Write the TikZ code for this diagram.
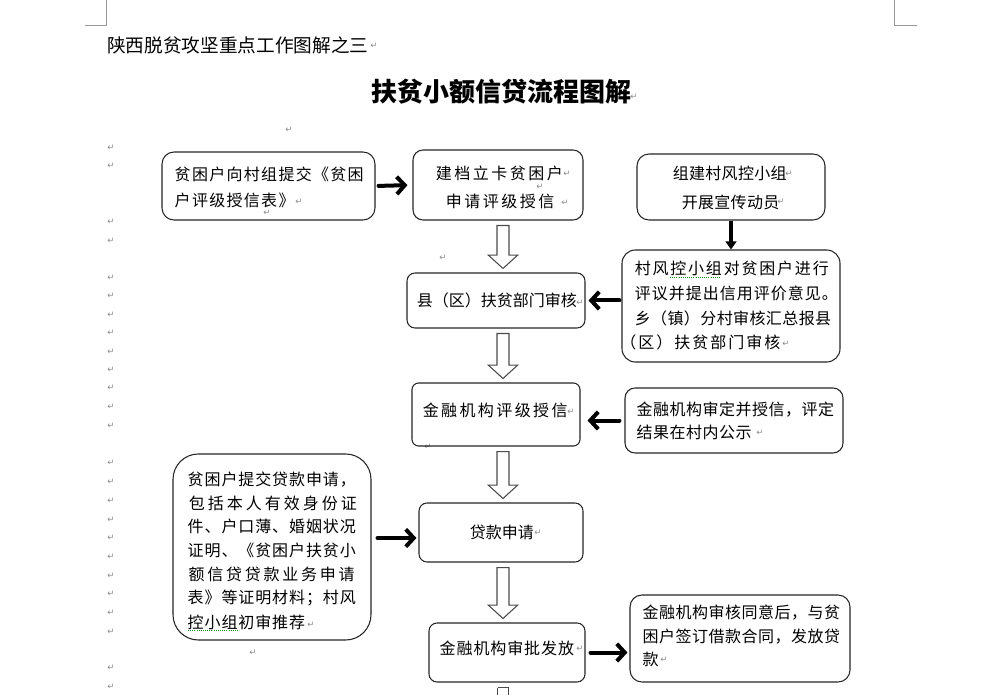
\documentclass[tikz,border=0pt]{standalone}
\usepackage{fontspec}
\newfontfamily\cjk{Noto Sans CJK SC}
\newfontfamily\arrfont{DejaVu Sans}
\usetikzlibrary{arrows.meta,calc,fit}
\ExplSyntaxOn
\NewDocumentCommand\pline{mm}{\tl_map_inline:nn{#2}{\makebox[#1][c]{##1}}}
\ExplSyntaxOff
\tikzset{
 bx/.style={draw=black!85, line width=0.8pt, inner sep=0pt},
 tl/.style={anchor=west, inner sep=0pt, font=\cjk\fontsize{12pt}{14pt}\selectfont},
 pm/.style={inner sep=0pt, text=black!45, font=\arrfont\fontsize{6.5pt}{7pt}\selectfont},
 bigarr/.style={line width=3pt, -{Straight Barb[length=6pt,width=13pt]}, line cap=round, line join=round},
 thinarr/.style={line width=2.4pt, -{Triangle[length=6pt,width=8pt]}},
 hollow/.style={draw=black!70, line width=0.8pt, fill=white},
 crop/.style={draw=black!40, line width=0.6pt},
 squig/.style={draw=green!55!black, densely dotted, line width=0.6pt},
}
\newcommand\harrow[2]{\draw[hollow] let \p1=($(#1.south -| col)+(0,5)$), \p2=($(#2.north -| col)+(0,-4)$) in
 ({\x1-4.5pt},\y1) -- ({\x1-4.5pt},{\y2+10pt}) -- ({\x1-11pt},{\y2+10pt}) -- (\x1,\y2) -- ({\x1+11pt},{\y2+10pt}) -- ({\x1+4.5pt},{\y2+10pt}) -- ({\x1+4.5pt},\y1) -- cycle;}
\begin{document}
\begin{tikzpicture}[x=0.75pt,y=-0.75pt]
\clip (0,0) rectangle (1000,695);
\fill[white] (0,0) rectangle (1000,695);
% crop marks
\draw[crop] (106,0) -- (106,25) -- (85,25);
\draw[crop] (894,0) -- (894,25) -- (917,25);
% header and title
\node[anchor=west, inner sep=0pt, font=\cjk\fontsize{14pt}{16pt}\selectfont] (hdr) at (107,45) {陕西脱贫攻坚重点工作图解之三};
\node[pm] (hdrm) at (374,46) {↵};
\node[anchor=west, inner sep=0pt, font=\cjk\bfseries\fontsize{19.5pt}{22pt}\selectfont] (ttl) at (371,92) {扶贫小额信贷流程图解};
\node[pm] (ttlm) at (634,97) {↵};
% paragraph marks
\foreach \yy in {148,166,222,241,278,296,315,333,352,370,388,407,426,463,482,501,520,538,557,576,594,613,632,668,687}
  \node[pm] (m\yy) at (111,\yy) {↵};
\node[pm] (p1) at (289,130) {↵};
\node[pm] (p2) at (443,258) {↵};
\node[pm] (p3) at (428,447) {↵};
\node[pm] (p4) at (253,653) {↵};
\coordinate (col) at (503,0);
% boxes
\node[bx, rounded corners=9pt, fit={(162,152) (375,220)}] (A) {};
\node[bx, rounded corners=7.5pt, fit={(413,150) (583,220)}] (B) {};
\node[bx, rounded corners=6pt, fit={(407,273) (585,328)}] (C) {};
\node[bx, rounded corners=9pt, fit={(637,154) (825,220)}] (D) {};
\node[bx, rounded corners=10pt, fit={(622,250) (840,362)}] (E) {};
\node[bx, rounded corners=5pt, fit={(412,383) (580,446)}] (F) {};
\node[bx, rounded corners=7.5pt, fit={(625,388) (843,453)}] (G) {};
\node[bx, rounded corners=6pt, fit={(419,503) (583,562)}] (H) {};
\node[bx, rounded corners=19pt, fit={(173,454) (371,640)}] (I) {};
\node[bx, rounded corners=6pt, fit={(429,623) (585,682)}] (J) {};
\node[bx, rounded corners=9pt, fit={(630,595) (850,682)}] (K) {};
% texts
\node[tl] (a1) at (173.8,174) {\pline{12.975pt}{贫困户向村组提交《贫困}};
\node[tl] (a2) at (173.8,200) {\pline{12.975pt}{户评级授信表》}};
\node[pm] (am1) at (299,202) {↵};
\node[pm] (am2) at (267,213) {↵};
\node[tl] (b1) at (434.3,173) {\pline{13.875pt}{建档立卡贫困户}};
\node[tl] (b2) at (444.3,201) {\pline{13.875pt}{申请评级授信}};
\node[pm] (bm1) at (567,174) {↵};
\node[pm] (bm2) at (540,187) {↵};
\node[pm] (bm3) at (565,203) {↵};
\node[tl] (c1) at (416.5,300) {\pline{12pt}{县（区）扶贫部门审核}};
\node[pm] (cm) at (580,303) {↵};
\node[tl] (d1) at (672.4,173) {\pline{12.225pt}{组建村风控小组}};
\node[tl] (d2) at (681.4,202) {\pline{12.225pt}{开展宣传动员}};
\node[pm] (dm1) at (789,174) {↵};
\node[pm] (dm2) at (781,202) {↵};
\node[tl] (e1) at (633.6,268) {\pline{13.35pt}{村风控小组对贫困户进行}};
\node[tl] (e2) at (634,293) {\pline{12.75pt}{评议并提出信用评价意见。}};
\node[tl] (e3) at (634.3,318) {\pline{12.3pt}{乡（镇）分村审核汇总报县}};
\node[tl] (e4) at (619,342) {\pline{13.5pt}{（区）扶贫部门审核}};
\node[pm] (em) at (786,344) {↵};
\draw[squig] (670,277) -- (720,277);
\node[tl] (f1) at (421.3,410) {\pline{13.8pt}{金融机构评级授信}};
\node[pm] (fm) at (571,412) {↵};
\node[tl] (g1) at (636.2,410) {\pline{12.375pt}{金融机构审定并授信，评定}};
\node[tl] (g2) at (636.2,432) {\pline{12.375pt}{结果在村内公示}};
\node[pm] (gm) at (760,433) {↵};
\node[tl] (h1) at (469.5,532) {\pline{12pt}{贷款申请}};
\node[pm] (hm) at (538,533) {↵};
\node[tl] (i1) at (187,480) {\pline{12.675pt}{贫困户提交贷款申请，}};
\node[tl] (i2) at (187,503) {\pline{14.25pt}{包括本人有效身份证}};
\node[tl] (i3) at (187,526) {\pline{12.675pt}{件、户口薄、婚姻状况}};
\node[tl] (i4) at (187,550) {\pline{12.675pt}{证明、《贫困户扶贫小}};
\node[tl] (i5) at (187,574) {\pline{14.06pt}{额信贷贷款业务申请}};
\node[tl] (i6) at (187,598) {\pline{12.675pt}{表》等证明材料；村风}};
\node[tl] (i7) at (187,622) {\pline{12.675pt}{控小组初审推荐}};
\node[pm] (im) at (311,625) {↵};
\draw[squig] (188,630) -- (238,630);
\node[tl] (j1) at (439,648) {\pline{12.675pt}{金融机构审批发放}};
\node[pm] (jm) at (580,649) {↵};
\node[tl] (k1) at (642.2,613) {\pline{12.375pt}{金融机构审核同意后，与贫}};
\node[tl] (k2) at (642.2,637) {\pline{12.375pt}{困户签订借款合同，发放贷}};
\node[tl] (k3) at (642.2,659) {\pline{12.375pt}{款}};
\node[pm] (km) at (664,660) {↵};
% connectors
\draw[bigarr, shorten <=2.25pt, shorten >=3.75pt] (A.east) -- (B.west);
\draw[bigarr, shorten <=1.5pt, shorten >=2.25pt] (E.west |- C.east) -- (C.east);
\draw[bigarr, shorten <=3.75pt, shorten >=5.25pt] (G.west) -- (F.east |- G.west);
\coordinate (ih) at (0,538);
\draw[bigarr, shorten <=4.5pt, shorten >=1.5pt] (I.east |- ih) -- (H.west |- ih);
\draw[bigarr, shorten <=3.75pt, shorten >=1.5pt] (J.east) -- (K.west |- J.east);
\draw[thinarr] (D.south) -- (D.south |- E.north);
\harrow{B}{C}
\harrow{C}{F}
\harrow{F}{H}
\harrow{H}{J}
\draw[draw=black!70, line width=0.8pt] ($(J.south -| col)+(-5.5,5)$) coordinate (s1) -- ++(0,20) (s1) -- ++(11,0) -- ++(0,20);
\end{tikzpicture}
\end{document}
